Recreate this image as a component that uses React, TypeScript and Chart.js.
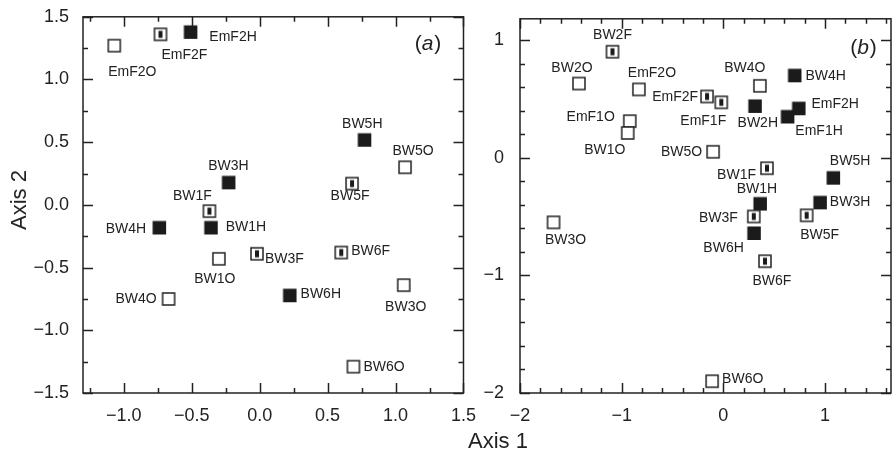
import React, { useEffect, useRef } from 'react';
import { Chart, registerables } from 'chart.js';

Chart.register(...registerables);

// ---------- Panel (a) data ----------
const namesA = ['EmF2O', 'EmF2F', 'EmF2H', 'BW3H', 'BW1F', 'BW1H', 'BW4H', 'BW1O', 'BW3F', 'BW4O', 'BW6H', 'BW6F', 'BW3O', 'BW6O', 'BW5H', 'BW5O', 'BW5F'];
const axis1A = [-1.07, -0.73, -0.51, -0.23, -0.37, -0.36, -0.74, -0.30, -0.02, -0.67, 0.22, 0.60, 1.06, 0.69, 0.77, 1.07, 0.68];
const axis2A = [1.27, 1.36, 1.38, 0.18, -0.05, -0.18, -0.18, -0.43, -0.39, -0.75, -0.72, -0.38, -0.64, -1.29, 0.52, 0.30, 0.17];
const xTicksA = [-1.0, -0.5, 0.0, 0.5, 1.0, 1.5];
const yTicksA = [-1.5, -1.0, -0.5, 0.0, 0.5, 1.0, 1.5];

// ---------- Panel (b) data ----------
const namesB = ['BW2F', 'BW2O', 'EmF2O', 'EmF1O', 'BW1O', 'BW3O', 'EmF2F', 'EmF1F', 'BW4O', 'BW2H', 'BW4H', 'EmF2H', 'EmF1H', 'BW5O', 'BW1F', 'BW5H', 'BW1H', 'BW3H', 'BW3F', 'BW5F', 'BW6H', 'BW6F', 'BW6O'];
const axis1B = [-1.09, -1.42, -0.83, -0.92, -0.94, -1.67, -0.16, -0.02, 0.36, 0.31, 0.70, 0.74, 0.63, -0.10, 0.43, 1.08, 0.36, 0.95, 0.30, 0.82, 0.30, 0.41, -0.11];
const axis2B = [0.90, 0.63, 0.58, 0.31, 0.21, -0.55, 0.52, 0.47, 0.61, 0.44, 0.70, 0.42, 0.35, 0.05, -0.09, -0.17, -0.39, -0.38, -0.50, -0.49, -0.64, -0.88, -1.90];
const xTicksB = [-2, -1, 0, 1];
const yTicksB = [-2, -1, 0, 1];

// ---------- Label placement (layout only): [dx, dy, align] ----------
const labelPosA: [number, number, string][] = [
  [18, 26, 'c'], [24, 21, 'c'], [19, 5, 'l'], [0, -16, 'c'], [-17, -15, 'c'], [15, 0, 'l'], [-13, 2, 'r'],
  [-4, 20, 'c'], [8, 5, 'l'], [-12, 0, 'r'], [11, -1, 'l'], [10, -1, 'l'], [2, 22, 'c'], [10, 0, 'l'],
  [-2, -16, 'c'], [8, -16, 'c'], [-2, 13, 'c'],
];
const labelPosB: [number, number, string][] = [
  [0, -17, 'c'], [-7, -15, 'c'], [13, -16, 'c'], [-15, -4, 'r'], [-23, 17, 'c'], [12, 18, 'c'],
  [-9, 1, 'r'], [-18, 19, 'c'], [-15, -18, 'c'], [3, 17, 'c'], [11, 1, 'l'], [13, -4, 'l'], [8, 15, 'l'],
  [-11, 0, 'r'], [-11, 7, 'r'], [17, -17, 'c'], [-3, -14, 'c'], [10, 0, 'l'], [-16, 2, 'r'], [13, 20, 'c'],
  [-10, 15, 'r'], [7, 20, 'c'], [10, -2, 'l'],
];

const FONT = '"Liberation Sans", Arial, Helvetica, sans-serif';
const INK = '#222';

function makeMarker(kind: string): HTMLCanvasElement {
  const c = document.createElement('canvas');
  c.width = 16;
  c.height = 16;
  const g = c.getContext('2d')!;
  if (kind === 'H') {
    g.fillStyle = '#1b1b1b';
    g.fillRect(1.5, 1.5, 13.5, 13.5);
  } else {
    g.fillStyle = '#fff';
    g.fillRect(2, 2, 12, 12);
    g.strokeStyle = INK;
    g.lineWidth = 1.5;
    g.strokeRect(2, 2, 12, 12);
    if (kind === 'F') {
      g.fillStyle = '#1b1b1b';
      g.fillRect(6, 4.5, 4, 7);
    }
  }
  return c;
}

const fmtA = (v: number) => v.toFixed(1).replace('-', '\u2212');
const fmtB = (v: number) => String(Math.round(v)).replace('-', '\u2212');

function range(min: number, max: number, step: number): number[] {
  const out: number[] = [];
  const n0 = Math.ceil(min / step - 1e-9);
  const n1 = Math.floor(max / step + 1e-9);
  for (let n = n0; n <= n1; n++) out.push(+(n * step).toFixed(6));
  return out;
}

const framePlugin = {
  id: 'frameTicks',
  afterDraw(chart: any, _args: any, opts: any) {
    const { ctx, chartArea: a, scales } = chart;
    const sx = scales.x;
    const sy = scales.y;
    ctx.save();
    ctx.strokeStyle = INK;
    ctx.lineWidth = 1.5;
    ctx.lineCap = 'butt';
    ctx.beginPath();
    const xMajor = opts.xMajor as number[];
    const yMajor = opts.yMajor as number[];
    const xMinor = range(sx.min, sx.max, opts.xMinorStep);
    const yMinor = range(sy.min, sy.max, opts.yMinorStep);
    const big = 10;
    const small = 5;
    const drawX = (v: number, len: number) => {
      const px = Math.round(sx.getPixelForValue(v)) + 0.5;
      ctx.moveTo(px, a.bottom);
      ctx.lineTo(px, a.bottom - len);
      ctx.moveTo(px, a.top);
      ctx.lineTo(px, a.top + len);
    };
    const drawY = (v: number, len: number) => {
      const py = Math.round(sy.getPixelForValue(v)) + 0.5;
      ctx.moveTo(a.left, py);
      ctx.lineTo(a.left + len, py);
      ctx.moveTo(a.right, py);
      ctx.lineTo(a.right - len, py);
    };
    xMinor.forEach((v) => drawX(v, small));
    yMinor.forEach((v) => drawY(v, small));
    xMajor.forEach((v) => drawX(v, big));
    yMajor.forEach((v) => drawY(v, big));
    ctx.stroke();
    ctx.strokeRect(a.left, a.top, a.right - a.left, a.bottom - a.top);

    // panel letter, e.g. "(a)"
    const fs = 21;
    const cx = a.right - opts.letterDx;
    const cy = a.top + opts.letterDy;
    ctx.fillStyle = INK;
    ctx.textBaseline = 'middle';
    ctx.textAlign = 'left';
    ctx.font = `${fs}px ${FONT}`;
    const wOpen = ctx.measureText('(').width;
    const wClose = ctx.measureText(')').width;
    ctx.font = `italic ${fs}px ${FONT}`;
    const wLet = ctx.measureText(opts.letter).width;
    let x0 = cx - (wOpen + wLet + wClose) / 2;
    ctx.font = `${fs}px ${FONT}`;
    ctx.fillText('(', x0, cy);
    x0 += wOpen;
    ctx.font = `italic ${fs}px ${FONT}`;
    ctx.fillText(opts.letter, x0, cy);
    x0 += wLet + 1;
    ctx.font = `${fs}px ${FONT}`;
    ctx.fillText(')', x0, cy);
    ctx.restore();
  },
};

const labelPlugin = {
  id: 'pointLabels',
  afterDatasetsDraw(chart: any, _args: any, opts: any) {
    const { ctx } = chart;
    const meta = chart.getDatasetMeta(0);
    const names = opts.names as string[];
    const pos = opts.pos as [number, number, string][];
    ctx.save();
    ctx.font = `14px ${FONT}`;
    ctx.fillStyle = INK;
    ctx.textBaseline = 'middle';
    meta.data.forEach((el: any, i: number) => {
      const [dx, dy, al] = pos[i];
      ctx.textAlign = al === 'c' ? 'center' : al === 'l' ? 'left' : 'right';
      ctx.fillText(names[i], el.x + dx, el.y + dy);
    });
    ctx.restore();
  },
};

interface PanelCfg {
  names: string[];
  xs: number[];
  ys: number[];
  xTicks: number[];
  yTicks: number[];
  xMin: number;
  xMax: number;
  yMin: number;
  yMax: number;
  xMinorStep: number;
  yMinorStep: number;
  fmt: (v: number) => string;
  labelPos: [number, number, string][];
  yAxisWidth: number;
  padRight: number;
  yPad: number;
  letter: string;
  letterDx: number;
  letterDy: number;
}

function Panel(props: { cfg: PanelCfg; left: number; width: number }) {
  const ref = useRef<HTMLCanvasElement>(null);
  const { cfg } = props;
  useEffect(() => {
    const markers: Record<string, HTMLCanvasElement> = {
      H: makeMarker('H'),
      O: makeMarker('O'),
      F: makeMarker('F'),
    };
    const styles = cfg.names.map((n) => markers[n.charAt(n.length - 1)]);
    const chart = new Chart(ref.current!, {
      type: 'scatter',
      data: {
        datasets: [
          {
            data: cfg.xs.map((x, i) => ({ x, y: cfg.ys[i] })),
            pointStyle: styles as any,
            pointRadius: 8,
            pointHoverRadius: 8,
            clip: false as any,
          },
        ],
      },
      options: {
        animation: false,
        responsive: false,
        events: [],
        layout: { padding: { top: 13, right: cfg.padRight, left: 0, bottom: 0 } },
        plugins: {
          legend: { display: false },
          tooltip: { enabled: false },
          frameTicks: {
            xMajor: cfg.xTicks,
            yMajor: cfg.yTicks,
            xMinorStep: cfg.xMinorStep,
            yMinorStep: cfg.yMinorStep,
            letter: cfg.letter,
            letterDx: cfg.letterDx,
            letterDy: cfg.letterDy,
          },
          pointLabels: { names: cfg.names, pos: cfg.labelPos },
        } as any,
        scales: {
          x: {
            type: 'linear',
            min: cfg.xMin,
            max: cfg.xMax,
            grid: { display: false },
            border: { display: false },
            afterBuildTicks: (s: any) => {
              s.ticks = cfg.xTicks.map((v) => ({ value: v }));
            },
            afterFit: (s: any) => {
              s.height = 62;
            },
            ticks: {
              autoSkip: false,
              maxRotation: 0,
              padding: 4,
              color: INK,
              font: { family: FONT, size: 18 },
              callback: (v: any) => cfg.fmt(Number(v)),
            },
          },
          y: {
            type: 'linear',
            min: cfg.yMin,
            max: cfg.yMax,
            grid: { display: false },
            border: { display: false },
            afterBuildTicks: (s: any) => {
              s.ticks = cfg.yTicks.map((v) => ({ value: v }));
            },
            afterFit: (s: any) => {
              s.width = cfg.yAxisWidth;
            },
            ticks: {
              autoSkip: false,
              padding: cfg.yPad,
              color: INK,
              font: { family: FONT, size: 18 },
              callback: (v: any) => cfg.fmt(Number(v)),
            },
          },
        },
      },
      plugins: [framePlugin as any, labelPlugin as any],
    });
    return () => chart.destroy();
  }, [cfg]);
  return (
    <canvas
      ref={ref}
      width={props.width}
      height={455}
      style={{ position: 'absolute', left: props.left, top: 0, width: props.width, height: 455, display: 'block' }}
    />
  );
}

const cfgA: PanelCfg = {
  names: namesA,
  xs: axis1A,
  ys: axis2A,
  xTicks: xTicksA,
  yTicks: yTicksA,
  xMin: -1.3,
  xMax: 1.5,
  yMin: -1.5,
  yMax: 1.5,
  xMinorStep: 0.25,
  yMinorStep: 0.25,
  fmt: fmtA,
  labelPos: labelPosA,
  yAxisWidth: 83,
  padRight: 15,
  yPad: 6,
  letter: 'a',
  letterDx: 36,
  letterDy: 27,
};

const cfgB: PanelCfg = {
  names: namesB,
  xs: axis1B,
  ys: axis2B,
  xTicks: xTicksB,
  yTicks: yTicksB,
  xMin: -2,
  xMax: 1.65,
  yMin: -2,
  yMax: 1.18,
  xMinorStep: 0.2,
  yMinorStep: 0.2,
  fmt: fmtB,
  labelPos: labelPosB,
  yAxisWidth: 40,
  padRight: 4,
  yPad: 8,
  letter: 'b',
  letterDx: 28,
  letterDy: 29,
};

export default function App() {
  return (
    <div
      style={{
        position: 'fixed',
        left: 0,
        top: 0,
        width: 892,
        height: 455,
        overflow: 'hidden',
        background: '#fff',
        fontFamily: FONT,
        color: INK,
      }}
    >
      <Panel cfg={cfgA} left={0} width={480} />
      <Panel cfg={cfgB} left={480} width={420} />
      <div
        style={{
          position: 'absolute',
          left: 19,
          top: 200,
          transform: 'translate(-50%, -50%) rotate(-90deg)',
          fontSize: 22,
          whiteSpace: 'nowrap',
          lineHeight: 1,
        }}
      >
        Axis 2
      </div>
      <div
        style={{
          position: 'absolute',
          left: 498,
          top: 441,
          transform: 'translate(-50%, -50%)',
          fontSize: 22,
          whiteSpace: 'nowrap',
          lineHeight: 1,
        }}
      >
        Axis 1
      </div>
    </div>
  );
}
